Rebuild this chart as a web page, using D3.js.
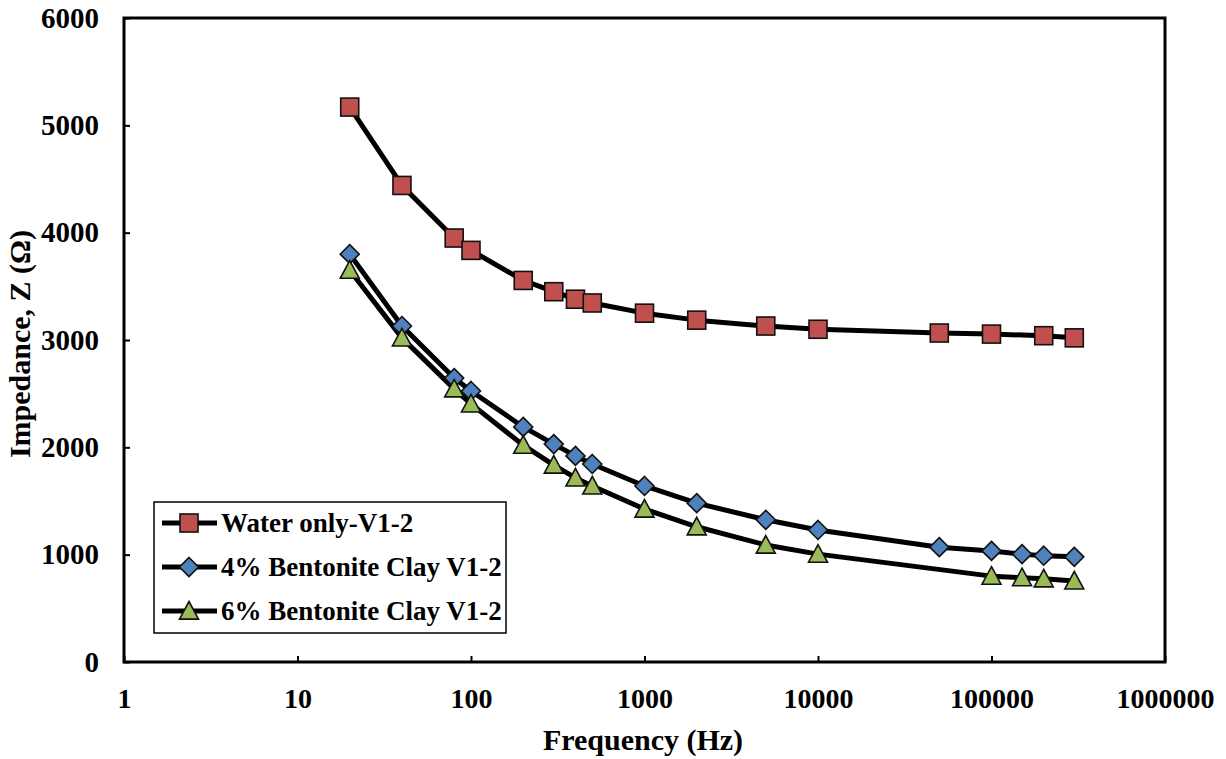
<!DOCTYPE html>
<html><head><meta charset="utf-8">
<script src="https://cdn.jsdelivr.net/npm/d3@7"></script>
<style>body{margin:0;background:#fff}svg{display:block}</style>
</head><body>
<svg id="c" width="1226" height="759"></svg>
<script>
const waterFreq = [20,40,80,100,200,300,400,500,1000,2000,5000,10000,50000,100000,200000,300000];
const waterZ    = [5170,4440,3950,3835,3555,3450,3380,3345,3250,3185,3130,3100,3065,3055,3040,3020];
const b4Freq = [20,40,80,100,200,300,400,500,1000,2000,5000,10000,50000,100000,150000,200000,300000];
const b4Z    = [3800,3130,2645,2525,2190,2030,1920,1845,1640,1480,1325,1230,1070,1035,1005,990,980];
const b6Freq = [20,40,80,100,200,300,400,500,1000,2000,5000,10000,100000,150000,200000,300000];
const b6Z    = [3650,3020,2545,2405,2020,1835,1715,1640,1425,1260,1090,1005,800,785,775,755];
const xTicks = [1,10,100,1000,10000,100000,1000000];
const yTicks = [0,1000,2000,3000,4000,5000,6000];
const seriesNames = ["Water only-V1-2","4% Bentonite Clay V1-2","6% Bentonite Clay V1-2"];

const L=124,R=1165,T=18,B=662;
const svg=d3.select("#c");
const x=d3.scaleLog().domain([1,1000000]).range([L,R]);
const y=d3.scaleLinear().domain([0,6000]).range([B,T]);
const font="'Liberation Serif','Times New Roman',serif";

// frame
svg.append("rect").attr("x",L).attr("y",T).attr("width",R-L).attr("height",B-T)
  .attr("fill","none").attr("stroke","#000").attr("stroke-width",3);

// ticks inward
const xa=svg.append("g").attr("transform",`translate(0,${B})`)
  .call(d3.axisBottom(x).tickValues(xTicks).tickFormat(d3.format("d")).tickSizeInner(-6).tickSizeOuter(0).tickPadding(26));
xa.select(".domain").remove();
xa.selectAll("line").attr("stroke-width",2);
xa.selectAll("text").attr("font-family",font).attr("font-weight","bold").attr("font-size",28).attr("fill","#000");

const ya=svg.append("g").attr("transform",`translate(${L},0)`)
  .call(d3.axisLeft(y).tickValues(yTicks).tickFormat(d3.format("d")).tickSizeInner(-6).tickSizeOuter(0).tickPadding(25));
ya.select(".domain").remove();
ya.selectAll("line").attr("stroke-width",2);
ya.selectAll("text").attr("font-family",font).attr("font-weight","bold").attr("font-size",29).attr("fill","#000");

// titles
svg.append("text").attr("x",643).attr("y",750).attr("text-anchor","middle")
  .attr("font-family",font).attr("font-weight","bold").attr("font-size",30).text("Frequency (Hz)");
svg.append("text").attr("transform",`translate(30,${344}) rotate(-90)`).attr("text-anchor","middle")
  .attr("font-family",font).attr("font-weight","bold").attr("font-size",30).text("Impedance, Z (Ω)");

const series=[
  {f:waterFreq,z:waterZ,color:"#C0504D",shape:"square"},
  {f:b4Freq,z:b4Z,color:"#4F81BD",shape:"diamond"},
  {f:b6Freq,z:b6Z,color:"#9BBB59",shape:"triangle"}
];
const line=d3.line().x(d=>x(d[0])).y(d=>y(d[1]));
function marker(g,shape,color,cx,cy){
  if(shape==="square"){
    g.append("rect").attr("x",cx-9).attr("y",cy-9).attr("width",18).attr("height",18)
      .attr("fill",color).attr("stroke","#111").attr("stroke-width",1.6);
  } else if(shape==="diamond"){
    const s=9.5;
    g.append("path").attr("d",`M${cx},${cy-s}L${cx+s},${cy}L${cx},${cy+s}L${cx-s},${cy}Z`)
      .attr("fill",color).attr("stroke","#111").attr("stroke-width",1.6);
  } else {
    const s=9.5;
    g.append("path").attr("d",`M${cx},${cy-s}L${cx+s},${cy+s*0.85}L${cx-s},${cy+s*0.85}Z`)
      .attr("fill",color).attr("stroke","#111").attr("stroke-width",1.6);
  }
}
series.forEach(s=>{
  const pts=s.f.map((f,i)=>[f,s.z[i]]);
  svg.append("path").datum(pts).attr("d",line).attr("fill","none").attr("stroke","#000").attr("stroke-width",5).attr("stroke-linejoin","round");
});
series.forEach(s=>{
  const g=svg.append("g");
  s.f.forEach((f,i)=>marker(g,s.shape,s.color,x(f),y(s.z[i])));
});

// legend
const lg=svg.append("g");
lg.append("rect").attr("x",154).attr("y",502).attr("width",352).attr("height",131)
  .attr("fill","#fff").attr("stroke","#000").attr("stroke-width",1.5);
const rows=[523,567,611];
series.forEach((s,i)=>{
  lg.append("line").attr("x1",162).attr("x2",217).attr("y1",rows[i]).attr("y2",rows[i]).attr("stroke","#000").attr("stroke-width",5);
  marker(lg,s.shape,s.color,189,rows[i]);
  lg.append("text").attr("x",221).attr("y",rows[i]+9).attr("font-family",font).attr("font-weight","bold")
    .attr("font-size",27).text(seriesNames[i]);
});
</script>
</body></html>
